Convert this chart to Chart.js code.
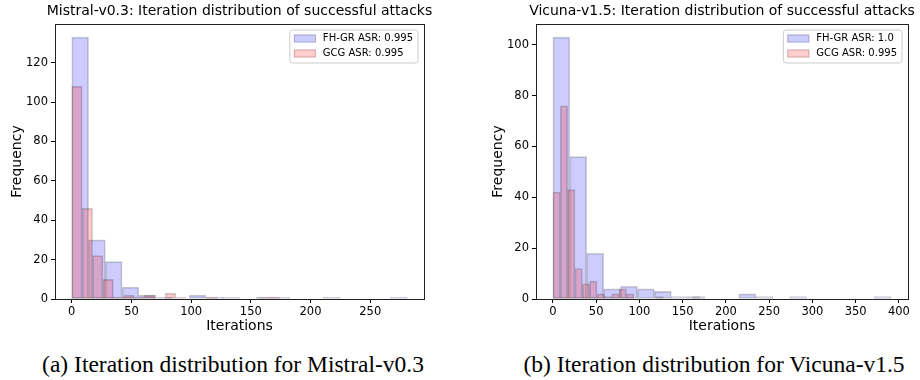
<!DOCTYPE html>
<html>
<head>
<meta charset="utf-8">
<script src="https://cdn.jsdelivr.net/npm/chart.js@4.4.1/dist/chart.umd.min.js"></script>
<style>
  body { margin: 0; width: 920px; height: 380px; background: #fff; position: relative; overflow: hidden; }
  .box { position: absolute; top: 0; width: 440px; height: 340px; }
  .caption { position: absolute; top: 353px; font: 23.5px "Liberation Serif", "Times New Roman", serif; line-height: 1;
             white-space: nowrap; transform: translateX(-50%); color: #000; }
</style>
</head>
<body>
<div class="box" style="left:0"><canvas id="mistralChart"></canvas></div>
<div class="box" style="left:481px"><canvas id="vicunaChart"></canvas></div>
<div class="caption" style="left:233px">(a) Iteration distribution for Mistral-v0.3</div>
<div class="caption" style="left:714px">(b) Iteration distribution for Vicuna-v1.5</div>
<script>
// Histogram data: [first edge, last edge] and counts of the 20 bins
const mistralFhgrRange = [0, 281];
const mistralFhgrCounts = [133, 30, 19, 6, 2, 1, 0, 2, 1, 1, 0, 1, 1, 0, 0, 1, 0, 0, 0, 1];
const mistralGcgRange = [0, 174];
const mistralGcgCounts = [108, 46, 22, 10, 1, 2, 1, 2, 0, 3, 1, 0, 0, 1, 0, 0, 0, 0, 1, 1];
const vicunaFhgrRange = [0, 391];
const vicunaFhgrCounts = [103, 56, 18, 4, 5, 4, 3, 1, 1, 0, 0, 2, 1, 0, 1, 0, 0, 0, 0, 1];
const vicunaGcgRange = [0, 170];
const vicunaGcgCounts = [42, 76, 43, 12, 6, 7, 2, 1, 2, 4, 2, 0, 0, 0, 1, 0, 0, 0, 0, 1];

const mistralLabels = ['FH-GR ASR: 0.995', 'GCG ASR: 0.995'];
const vicunaLabels = ['FH-GR ASR: 1.0', 'GCG ASR: 0.995'];
const xTickStep = 50;
const yTickStep = 20;

const family = '"DejaVu Sans", sans-serif';
Chart.defaults.font.family = family;
Chart.defaults.color = '#000';

// bin centers from the edges
function binPoints(range, counts) {
  const w = (range[1] - range[0]) / counts.length;
  return counts.map((c, i) => ({x: range[0] + (i + 0.5) * w, y: c}));
}

// ticks at whole multiples of the step only
function stepTicks(step) {
  return axis => {
    const ticks = [];
    for (let v = Math.ceil(axis.min / step) * step; v <= axis.max; v += step) ticks.push({value: v});
    axis.ticks = ticks;
  };
}

// title centred over the plot, not squeezed to its width
const plotTitle = {
  id: 'plotTitle',
  afterDraw(chart, args, opts) {
    const {ctx, chartArea} = chart;
    ctx.save();
    ctx.font = '14px ' + family;
    ctx.fillStyle = '#000';
    ctx.textAlign = 'center';
    ctx.textBaseline = 'middle';
    ctx.fillText(opts.text, (chartArea.left + chartArea.right) / 2, 11.5);
    ctx.restore();
  }
};

// matplotlib style legend box in the upper right of the plot
const boxLegend = {
  id: 'boxLegend',
  afterDatasetsDraw(chart) {
    const {ctx, chartArea} = chart;
    const sets = chart.data.datasets;
    ctx.save();
    ctx.font = '10px ' + family;
    let tw = 0;
    sets.forEach(d => { tw = Math.max(tw, ctx.measureText(d.label).width); });
    const w = 33 + tw + 5;
    const h = 33;
    const left = chartArea.right - 6 - w;
    const top = chartArea.top + 6;
    ctx.beginPath();
    ctx.roundRect(left, top, w, h, 2.5);
    ctx.fillStyle = 'rgba(255,255,255,0.8)';
    ctx.fill();
    ctx.strokeStyle = '#cccccc';
    ctx.lineWidth = 1;
    ctx.stroke();
    sets.forEach((d, i) => {
      const cy = top + 8.5 + i * 15;
      ctx.fillStyle = d.backgroundColor;
      ctx.fillRect(left + 4, cy - 4, 22, 8);
      ctx.strokeStyle = d.borderColor;
      ctx.strokeRect(left + 4.5, cy - 3.5, 21, 7);
      ctx.fillStyle = '#000';
      ctx.textBaseline = 'middle';
      ctx.fillText(d.label, left + 33, cy);
    });
    ctx.restore();
  }
};

function makeChart(id, title, labels, fhgrRange, fhgrCounts, gcgRange, gcgCounts, rightPad) {
  const lo = Math.min(fhgrRange[0], gcgRange[0]);
  const hi = Math.max(fhgrRange[1], gcgRange[1]);
  const pad = (hi - lo) * 0.05;
  const yMax = Math.max(...fhgrCounts, ...gcgCounts) * 1.05;
  const tickGrid = { drawOnChartArea: false, drawTicks: true, tickLength: 4, color: '#000', offset: false };
  const frame = { display: true, color: '#222', width: 1 };

  new Chart(document.getElementById(id), {
    type: 'bar',
    data: {
      datasets: [
        {
          label: labels[0],
          data: binPoints(fhgrRange, fhgrCounts),
          xAxisID: 'x',
          backgroundColor: 'rgba(0, 0, 255, 0.2)',
          borderColor: 'rgba(0, 0, 0, 0.2)',
          borderWidth: 1,
          order: 2
        },
        {
          label: labels[1],
          data: binPoints(gcgRange, gcgCounts),
          xAxisID: 'x2',
          backgroundColor: 'rgba(255, 0, 0, 0.2)',
          borderColor: 'rgba(0, 0, 0, 0.2)',
          borderWidth: 1,
          order: 1
        }
      ]
    },
    options: {
      responsive: true,
      maintainAspectRatio: false,
      animation: false,
      barPercentage: 1,
      categoryPercentage: 1,
      grouped: false,
      borderSkipped: false,
      layout: { padding: { left: 0, right: rightPad, top: 24, bottom: 0 } },
      scales: {
        x: {
          type: 'linear', position: 'bottom', min: lo - pad, max: hi + pad, offset: false,
          afterFit: s => { s.height = 41; },
          afterBuildTicks: stepTicks(xTickStep),
          ticks: { maxRotation: 0, padding: 2, font: { size: 11.5 } },
          grid: tickGrid,
          border: frame,
          title: { display: true, text: 'Iterations', font: { size: 14 }, padding: { top: 0, bottom: 5.6 } }
        },
        x2: {
          type: 'linear', position: 'top', min: lo - pad, max: hi + pad, offset: false,
          afterFit: s => { s.height = 0; },
          ticks: { display: false },
          grid: { display: false },
          border: frame
        },
        y: {
          type: 'linear', position: 'left', min: 0, max: yMax,
          afterFit: s => { s.width = 55; },
          afterBuildTicks: stepTicks(yTickStep),
          ticks: { padding: 3, font: { size: 11.5 } },
          grid: tickGrid,
          border: frame,
          title: { display: true, text: 'Frequency', font: { size: 14 }, padding: { top: 8.6, bottom: 0 } }
        },
        yr: {
          type: 'linear', position: 'right', min: 0, max: yMax,
          afterFit: s => { s.width = 0; },
          ticks: { display: false },
          grid: { display: false },
          border: frame
        }
      },
      plugins: {
        legend: { display: false },
        tooltip: { enabled: false },
        title: { display: false },
        plotTitle: { text: title }
      }
    },
    plugins: [boxLegend, plotTitle]
  });
}

makeChart('mistralChart', 'Mistral-v0.3: Iteration distribution of successful attacks', mistralLabels,
  mistralFhgrRange, mistralFhgrCounts, mistralGcgRange, mistralGcgCounts, 16);
makeChart('vicunaChart', 'Vicuna-v1.5: Iteration distribution of successful attacks', vicunaLabels,
  vicunaFhgrRange, vicunaFhgrCounts, vicunaGcgRange, vicunaGcgCounts, 13);
</script>
</body>
</html>
